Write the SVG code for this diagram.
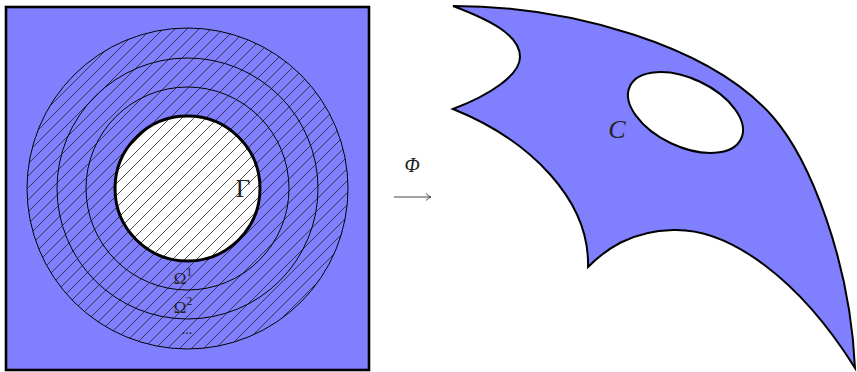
<svg xmlns="http://www.w3.org/2000/svg" width="857" height="372" viewBox="0 0 857 372">
  <style>
    .blue { fill: #8080ff; }
    .edge { stroke: #000; fill: none; }
    .lbl { font-family: "Liberation Serif", "DejaVu Serif", serif; fill: #222; }
    .it { font-style: italic; }
  </style>
  <defs>
    <pattern id="hatch" patternUnits="userSpaceOnUse" width="12" height="12">
      <path d="M0,12 L12,0 M-2,2 L2,-2 M10,14 L14,10" stroke="#222" stroke-width="0.8" fill="none"/>
    </pattern>
  </defs>
  <rect width="857" height="372" fill="#fff"/>

  <g id="domain">
    <rect x="6" y="7" width="363" height="363" class="blue" stroke="#000" stroke-width="2.6"/>
    <circle cx="187.5" cy="188.5" r="72.5" fill="#fff"/>
    <circle cx="187.5" cy="188.5" r="160.5" fill="url(#hatch)"/>
    <circle cx="187.5" cy="188.5" r="160.5" class="edge" stroke-width="1"/>
    <circle cx="187.5" cy="188.5" r="130.5" class="edge" stroke-width="1"/>
    <circle cx="187.5" cy="188.5" r="101.5" class="edge" stroke-width="1"/>
    <circle cx="187.5" cy="188.5" r="72.5" class="edge" stroke-width="3"/>
    <text x="243" y="197" class="lbl" font-size="25" text-anchor="middle">Γ</text>
    <text x="183" y="284" class="lbl" font-size="17" text-anchor="middle">Ω<tspan font-size="12" dy="-8">1</tspan></text>
    <text x="183" y="313" class="lbl" font-size="17" text-anchor="middle">Ω<tspan font-size="12" dy="-8">2</tspan></text>
    <text x="187" y="334" class="lbl" font-size="14" text-anchor="middle">...</text>
  </g>

  <g id="map">
    <text x="412" y="172" class="lbl it" font-size="20" text-anchor="middle">Φ</text>
    <path d="M394,197 L430,197" stroke="#444" stroke-width="1" fill="none"/>
    <path d="M426,193.5 Q428,196 431,197 Q428,198 426,200.5" stroke="#444" stroke-width="1" fill="none"/>
  </g>

  <g id="image">
    <path d="M453,6 C570,6 710,45 773,117 C810,160 850,260 855,368 C800,280 730,228 673,230 C630,231 605,250 588,267 C590,200 530,140 453,109 C490,95 520,75 520,57 C520,35 490,20 453,6 Z" class="blue" stroke="#000" stroke-width="2"/>
    <ellipse cx="685.5" cy="112.5" rx="61.5" ry="34" transform="rotate(25.3 685.5 112.5)" fill="#fff" stroke="#000" stroke-width="2"/>
    <text x="617" y="138" class="lbl it" font-size="26" text-anchor="middle">C</text>
  </g>
</svg>
